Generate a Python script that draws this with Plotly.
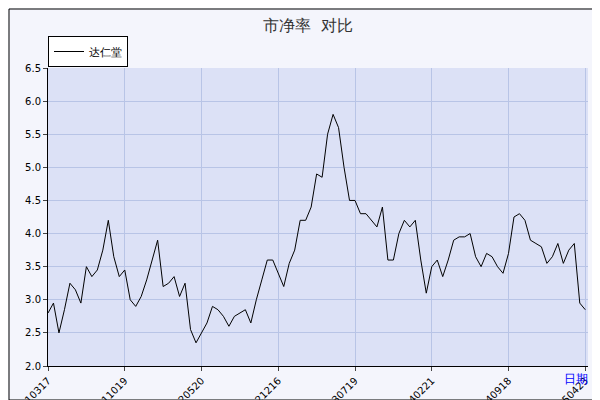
import plotly.graph_objs as go

pb = [2.8, 2.95, 2.5, 2.85, 3.25, 3.15, 2.95, 3.5, 3.35, 3.45,
      3.75, 4.2, 3.65, 3.35, 3.45, 3.0, 2.9, 3.05, 3.3, 3.6,
      3.9, 3.2, 3.25, 3.35, 3.05, 3.25, 2.55, 2.35, 2.5, 2.65,
      2.9, 2.85, 2.75, 2.6, 2.75, 2.8, 2.85, 2.65, 3.0, 3.3,
      3.6, 3.6, 3.4, 3.2, 3.55, 3.75, 4.2, 4.2, 4.4, 4.9,
      4.85, 5.5, 5.8, 5.6, 5.0, 4.5, 4.5, 4.3, 4.3, 4.2,
      4.1, 4.4, 3.6, 3.6, 4.0, 4.2, 4.1, 4.2, 3.6, 3.1,
      3.5, 3.6, 3.35, 3.6, 3.9, 3.95, 3.95, 4.0, 3.65, 3.5,
      3.7, 3.65, 3.5, 3.4, 3.7, 4.25, 4.3, 4.2, 3.9, 3.85,
      3.8, 3.55, 3.65, 3.85, 3.55, 3.75, 3.85, 2.95, 2.85]
tick_pos = [0, 14, 28, 42, 56, 70, 84, 98]
tick_text = ["20210317", "20211019", "20220520", "20221216",
             "20230719", "20240221", "20240918", "20250423"]

font = "DejaVu Sans"
W, H = 600, 400
L, R, T, B = 40, 20, 60, 42
pw, ph = W - L - R, H - T - B


def px(x):
    return (x - L) / pw


def py(y):
    return (H - B - y) / ph


fig = go.Figure()
fig.add_trace(go.Scatter(x=list(range(len(pb))), y=pb, mode="lines",
                         line=dict(color="black", width=1), name="达仁堂"))

fig.update_layout(
    width=W, height=H,
    margin=dict(l=L, r=R, t=T, b=B, autoexpand=False),
    paper_bgcolor="#f4f5fc", plot_bgcolor="#dce1f6",
    font=dict(family=font, size=10, color="black"),
    title=dict(text="市净率  对比", x=0.5, y=0.97, xanchor="center",
               font=dict(size=16, color="#333333")),
    showlegend=True,
    legend=dict(x=0, y=py(28), xanchor="left", yanchor="top",
                bgcolor="white", bordercolor="black", borderwidth=1,
                itemwidth=30, font=dict(size=11)),
    xaxis=dict(range=[0, 98.5], tickvals=tick_pos, ticktext=tick_text,
               tickangle=-45, showgrid=True, gridcolor="#b8c4e6",
               showline=True, linecolor="black", ticks="outside",
               ticklen=4, zeroline=False),
    yaxis=dict(range=[2.0, 6.5], dtick=0.5, tickformat=".1f",
               showgrid=True, gridcolor="#b8c4e6", showline=True,
               linecolor="black", ticks="outside", ticklen=4,
               zeroline=False),
    shapes=[
        dict(type="rect", xref="paper", yref="paper", layer="below",
             x0=px(6), x1=px(599), y0=py(399), y1=py(6),
             fillcolor="#666666", line=dict(width=0)),
        dict(type="rect", xref="paper", yref="paper", layer="below",
             x0=px(1), x1=px(593), y0=py(392), y1=py(1),
             fillcolor="#f4f5fc", line=dict(color="black", width=1)),
        dict(type="rect", xref="paper", yref="paper", layer="below",
             x0=0, x1=1, y0=0, y1=1,
             fillcolor="#dce1f6", line=dict(width=0)),
    ],
    annotations=[dict(text="日期", xref="paper", yref="paper",
                      x=px(582), y=py(380), xanchor="right",
                      showarrow=False,
                      font=dict(color="blue", size=12))],
)

fig.write_html("out.html")
